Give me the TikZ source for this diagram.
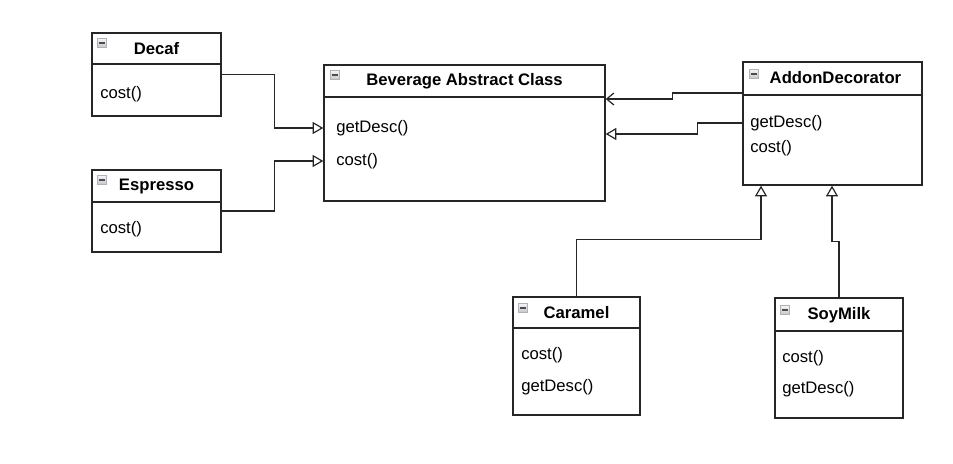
\documentclass[tikz,border=0pt]{standalone}
\usepackage{fontspec}
\setmainfont{Liberation Sans}
\usetikzlibrary{arrows.meta,fit}
\begin{document}
\begin{tikzpicture}[x=0.75pt, y=-0.75pt, every node/.style={font=\fontsize{12.5}{15}\selectfont},
  cls/.style={draw=black!85,line width=1pt,inner sep=0pt},
  sep/.style={draw=black!85,line width=0.8pt},
  ttl/.style={font=\fontsize{12.5}{15}\selectfont\bfseries},
  mth/.style={anchor=west,inner sep=0pt},
  ico/.style={draw=gray!60,line width=0.5pt,top color=blue!4,bottom color=gray!45,minimum size=7pt,inner sep=0pt,
    path picture={\draw[black!70,line width=1.5pt] ([xshift=1.2pt]path picture bounding box.west) -- ([xshift=-1.2pt]path picture bounding box.east);}},
  lnk/.style={draw=black!85,line width=0.9pt},
  inh/.style={lnk,-{Triangle[open,length=8pt,width=9pt]}},
  dep/.style={lnk,-{Straight Barb[length=5.5pt,width=9pt]}}]
\useasboundingbox (0,0) rectangle (953,464);
% concrete beverages
\node[cls,fit={(92,33)(221,116)}] (decaf) {};
\draw[sep] (decaf.west |- 0,64) -- (decaf.east |- 0,64);
\node[ico] (decaf-i) at (102,43) {};
\node[ttl] (decaf-t) at (decaf.north |- 0,49) {Decaf};
\node[mth] (decaf-c) at (100,94) {cost()};
\node[cls,fit={(92,170)(221,252)}] (espresso) {};
\draw[sep] (espresso.west |- 0,202) -- (espresso.east |- 0,202);
\node[ico] (espresso-i) at (102,180) {};
\node[ttl] (espresso-t) at (espresso.north |- 0,186) {Espresso};
\node[mth] (espresso-c) at (100,229) {cost()};
% abstract class
\node[cls,fit={(324,65)(605,201)}] (bev) {};
\draw[sep] (bev.west |- 0,97) -- (bev.east |- 0,97);
\node[ico] (bev-i) at (335,75) {};
\node[ttl] (bev-t) at (bev.north |- 0,81) {Beverage Abstract Class};
\node[mth] (bev-g) at (336,128) {getDesc()};
\node[mth] (bev-c) at (336,161) {cost()};
% decorator
\node[cls,fit={(743,62)(922,185)}] (addon) {};
\draw[sep] (addon.west |- 0,95) -- (addon.east |- 0,95);
\node[ico] (addon-i) at (754,74) {};
\node[ttl,anchor=west] (addon-t) at (765,78) {AddonDecorator};
\node[mth] (addon-g) at (750,123) {getDesc()};
\node[mth] (addon-c) at (750,148) {cost()};
% addons
\node[cls,fit={(513,297)(640,415)}] (caramel) {};
\draw[sep] (caramel.west |- 0,328) -- (caramel.east |- 0,328);
\node[ico] (caramel-i) at (523,308) {};
\node[ttl] (caramel-t) at (caramel.north |- 0,313) {Caramel};
\node[mth] (caramel-c) at (521,355) {cost()};
\node[mth] (caramel-g) at (521,387) {getDesc()};
\node[cls,fit={(775,298)(903,418)}] (soy) {};
\draw[sep] (soy.west |- 0,331) -- (soy.east |- 0,331);
\node[ico] (soy-i) at (785,310) {};
\node[ttl] (soy-t) at (soy.north |- 0,315) {SoyMilk};
\node[mth] (soy-c) at (782,358) {cost()};
\node[mth] (soy-g) at (782,389) {getDesc()};
% links
\draw[inh] (decaf.east) -- ++(53,0) |- (bev.west |- bev-g);
\draw[inh] (espresso.east) -- ++(53,0) |- (bev.west |- bev-c);
\draw[dep] (addon.west |- 0,93) -- ++(-70,0) |- (bev.east |- 0,99);
\draw[inh] (addon.west |- addon-g) -- ++(-45,0) |- (bev.east |- 0,134);
\draw[inh] (caramel.north) -- ++(0,-57) -| (addon.south -| 761,0);
\draw[inh] (soy.north) -- ++(0,-56) -| (addon.south -| 832,0);
\end{tikzpicture}
\end{document}
